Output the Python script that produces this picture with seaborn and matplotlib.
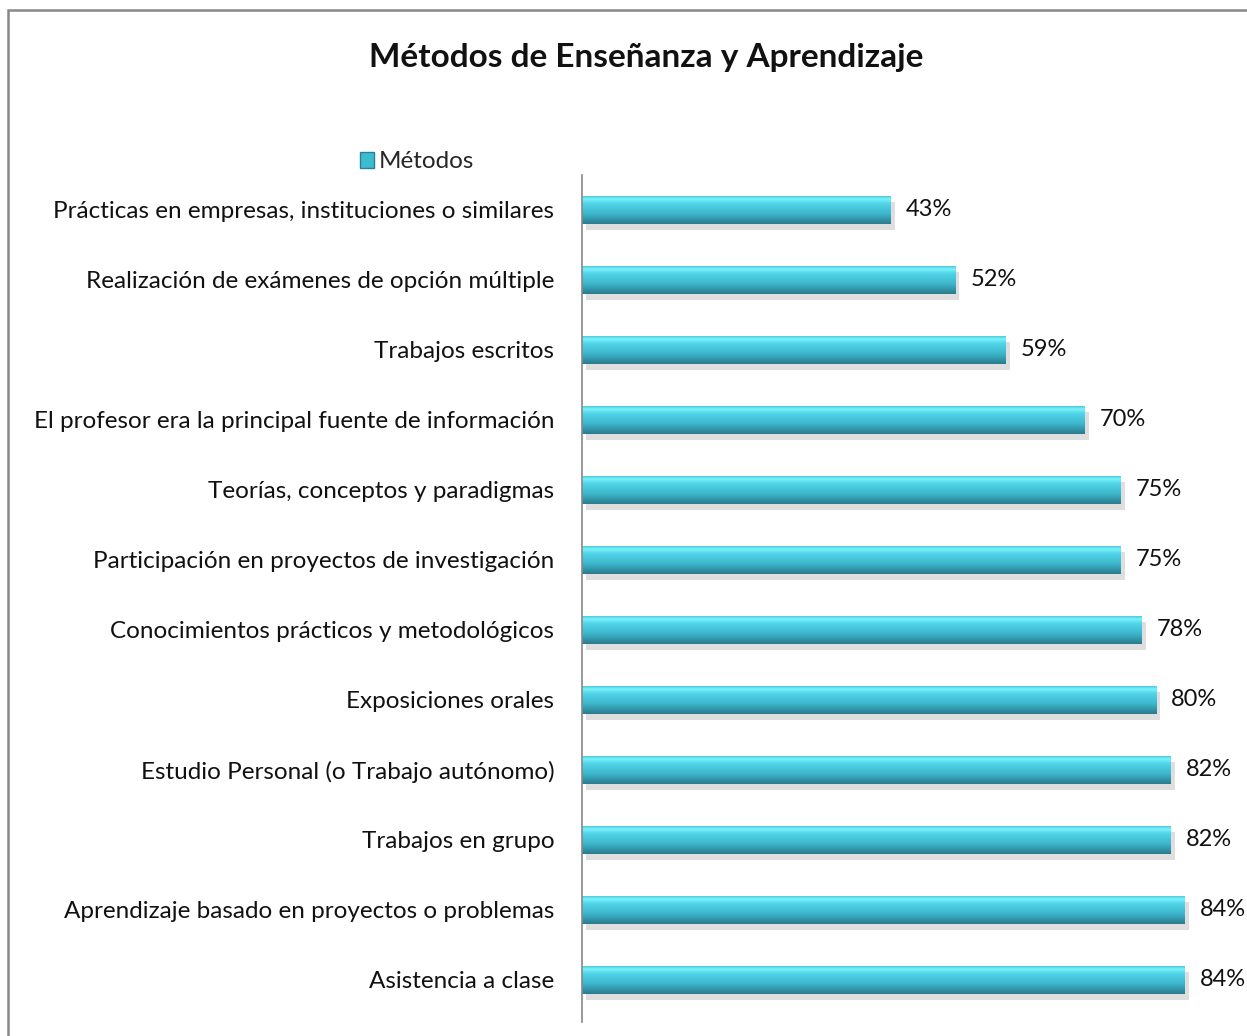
import numpy as np
import pandas as pd
import matplotlib
matplotlib.use("Agg")
import matplotlib.pyplot as plt
import matplotlib.patheffects as pe
from matplotlib.patches import Rectangle, Patch
from matplotlib.colors import LinearSegmentedColormap
import seaborn as sns

categories = [
    "Prácticas en empresas, instituciones o similares",
    "Realización de exámenes de opción múltiple",
    "Trabajos escritos",
    "El profesor era la principal fuente de información",
    "Teorías, conceptos y paradigmas",
    "Participación en proyectos de investigación",
    "Conocimientos prácticos y metodológicos",
    "Exposiciones orales",
    "Estudio Personal (o Trabajo autónomo)",
    "Trabajos en grupo",
    "Aprendizaje basado en proyectos o problemas",
    "Asistencia a clase",
]
values = [43, 52, 59, 70, 75, 75, 78, 80, 82, 82, 84, 84]
series_name = "Métodos"
title = "Métodos de Enseñanza y Aprendizaje"

df = pd.DataFrame({"cat": categories, "val": values})

sns.set_theme(style="white")
plt.rcParams["font.family"] = ["Lato", "DejaVu Sans"]

W, H = 1247, 1036
fig = plt.figure(figsize=(W / 100, H / 100), dpi=100)
ax = fig.add_axes([582 / W, 1 - 1015 / H, (1228 - 582) / W, (1015 - 175) / H])

sns.barplot(data=df, y="cat", x="val", orient="h", ax=ax, color="#3cbcd0",
            width=0.4, saturation=1, label=series_name)

cmap = LinearSegmentedColormap.from_list(
    "cyl", [(0, "#2a7a8c"), (0.35, "#3cb4ca"), (0.75, "#52d6ea"), (0.9, "#7cf4fc"), (1, "#4cc8dc")])
grad = np.linspace(0, 1, 100).reshape(-1, 1)
for p in ax.patches:
    p.set_edgecolor("none")
    p.set_path_effects([pe.SimplePatchShadow(offset=(3, -4), shadow_rgbFace="#9a9a9a", alpha=0.32), pe.Normal()])
    x0, y0 = p.get_x(), p.get_y()
    w, h = p.get_width(), p.get_height()
    im = ax.imshow(grad, cmap=cmap, aspect="auto", extent=(x0, x0 + w, y0 + h, y0),
                   origin="lower", zorder=p.get_zorder() + 0.1, interpolation="bicubic")
    im.set_clip_path(p)

for i, v in enumerate(values):
    ax.text(v + 2.1, i, f"{v}%", va="center", ha="left", fontsize=17, color="#111111")

ax.set_xlim(0, 90)
ax.set_ylim(len(categories) - 0.5, -0.5)
ax.set_xlabel("")
ax.set_ylabel("")
ax.set_xticks([])
ax.tick_params(axis="y", length=0, pad=20, labelsize=17.5, labelcolor="#111111")
for s in ["top", "right", "bottom"]:
    ax.spines[s].set_visible(False)
ax.spines["left"].set_color("#888888")
ax.spines["left"].set_linewidth(1.2)
ax.spines["left"].set_bounds(len(categories) - 0.5 + 0.1, -0.5)

leg = ax.get_legend()
if leg is not None:
    leg.remove()
fig.legend(handles=[Patch(facecolor="#3cbcd0", edgecolor="#2b7f92")], labels=[series_name],
           loc="center left", bbox_to_anchor=(350 / W, 1 - 162 / H), frameon=False,
           fontsize=17.5, handlelength=0.6, handleheight=0.6, handletextpad=0.2, borderaxespad=0)

fig.text(646 / W, 1 - 57 / H, title, ha="center", va="center", fontsize=24, fontweight="bold",
         color="#111111")

fig.patches.append(Rectangle((8 / W, -0.05), 1.1, 1.05 - 10 / H,
                             transform=fig.transFigure, fill=False, edgecolor="#888888", lw=1.8))

fig.savefig("out.png", dpi=100)
